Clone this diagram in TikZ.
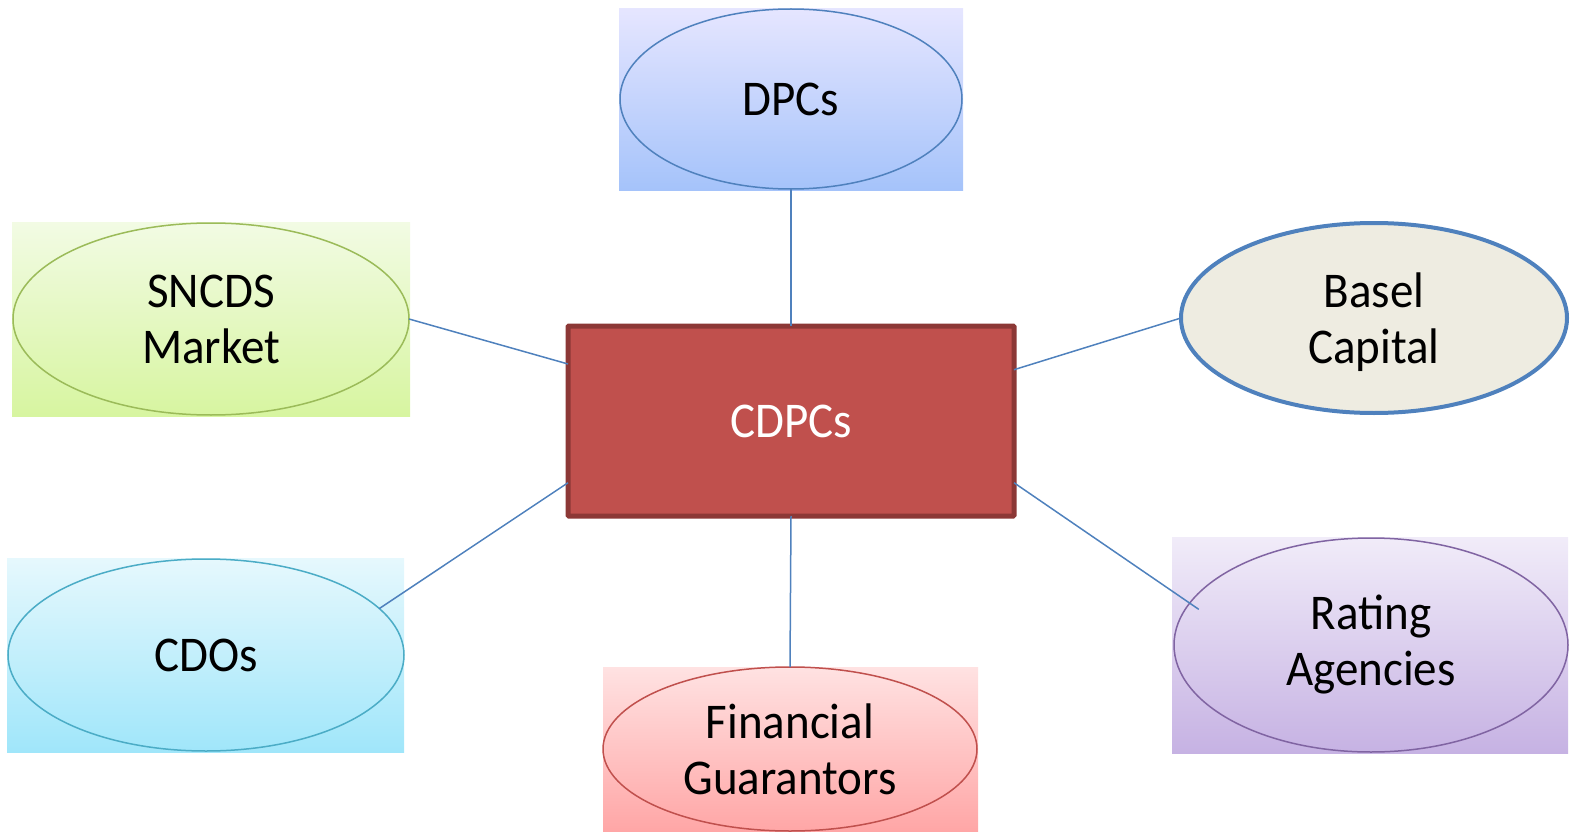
\documentclass[tikz,border=0pt]{standalone}
\usepackage{fontspec}
\setmainfont{Carlito}[FakeStretch=0.94]
\usetikzlibrary{shapes.geometric,calc}
\definecolor{linkblue}{HTML}{4F81BD}
\definecolor{boxred}{HTML}{C0504D}
\definecolor{boxredd}{HTML}{8C3836}
\tikzset{
  x=1pt,y=1pt,
  lbl/.style={font=\fontsize{50}{56}\selectfont,align=center,text=black},
  bubble/.style={ellipse,inner sep=0pt,outer sep=0pt,lbl},
  link/.style={draw=linkblue,line width=1.5pt},
}
\begin{document}
\begin{tikzpicture}
\useasboundingbox (0,0) rectangle (1572,-832);
% backgrounds
\shade[top color=blue!10!white,bottom color={rgb,255:red,165;green,195;blue,250}] (619,-9) rectangle (963,-190);
\shade[top color={rgb,255:red,242;green,251;blue,228},bottom color={rgb,255:red,215;green,245;blue,160}] (12,-222) rectangle (410,-416);
\shade[top color={rgb,255:red,230;green,248;blue,253},bottom color={rgb,255:red,160;green,230;blue,250}] (7,-558) rectangle (404,-752);
\shade[top color={rgb,255:red,255;green,226;blue,226},bottom color={rgb,255:red,255;green,166;blue,166}] (603,-667) rectangle (978,-832);
\shade[top color={rgb,255:red,241;green,236;blue,249},bottom color={rgb,255:red,198;green,178;blue,227}] (1172,-537) rectangle (1568,-753);
% nodes
\node[bubble,draw=linkblue,line width=1.5pt,minimum width=342,minimum height=180] (dpcs) at (791,-99) {DPCs};
\node[bubble,draw={rgb,255:red,155;green,187;blue,89},line width=1.5pt,minimum width=396,minimum height=192] (sncds) at (211,-319) {SNCDS\\Market};
\node[bubble,draw=linkblue,line width=4pt,fill={rgb,255:red,238;green,236;blue,225},minimum width=386,minimum height=190,
  label={[lbl,yshift=-4pt]center:Basel\\Capital}] (basel) at (1374,-318) {};
\node[bubble,draw={rgb,255:red,75;green,172;blue,198},line width=1.5pt,minimum width=396,minimum height=192] (cdos) at (206,-655) {CDOs};
\node[bubble,draw=boxred,line width=1.5pt,minimum width=374,minimum height=164] (fin) at (790,-749) {Financial\\Guarantors};
\node[bubble,draw={rgb,255:red,128;green,100;blue,162},line width=1.5pt,minimum width=394,minimum height=214] (rating) at (1371,-645) {Rating\\Agencies};
\node[rectangle,fill=boxred,draw=boxredd,line width=5pt,rounded corners=1pt,minimum width=446,minimum height=190,inner sep=0pt,outer sep=0pt,lbl,text=white] (cdpcs) at (791,-421) {CDPCs};
% connectors
\draw[link] (dpcs.south) -- (cdpcs.north);
\draw[link] (cdpcs.south) -- (fin.north);
\draw[link] (sncds.east) -- ($(cdpcs.north west)!0.2!(cdpcs.south west)$);
\draw[link] (cdos.15) -- ($(cdpcs.north west)!0.825!(cdpcs.south west)$);
\draw[link] (basel.west) -- ($(cdpcs.north east)!0.23!(cdpcs.south east)$);
\draw[link,shorten <=-11pt] (rating.167) -- ($(cdpcs.north east)!0.825!(cdpcs.south east)$);
\end{tikzpicture}
\end{document}
